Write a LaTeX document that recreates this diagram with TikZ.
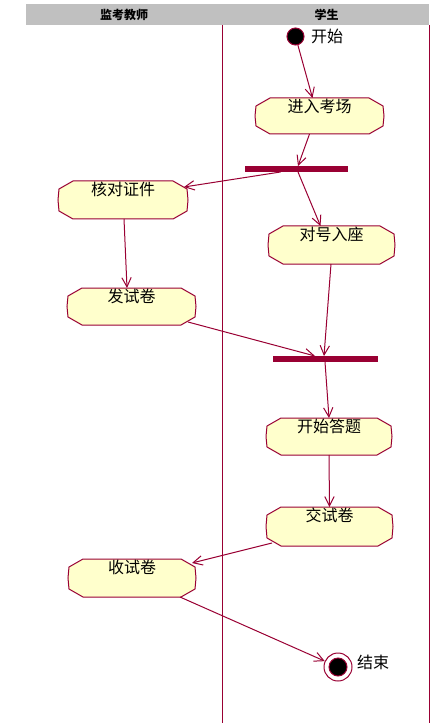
\documentclass[tikz,border=0pt]{standalone}
\usepackage{fontspec}
\newfontfamily\cjk{Noto Sans CJK SC}
\usetikzlibrary{calc,arrows.meta}
\definecolor{maroon}{HTML}{990033}
\definecolor{actfill}{HTML}{FFFFCC}
\definecolor{headgray}{HTML}{C0C0C0}
\tikzset{
  act/.style={rectangle, inner sep=0pt, outer sep=0pt, minimum width=95.25pt, minimum height=28.5pt},
  acttext/.style={font=\cjk\fontsize{12}{14}\selectfont, inner sep=0pt, anchor=north, yshift=-0.75pt},
  bar/.style={rectangle, fill=maroon, inner sep=0pt, outer sep=0pt},
  lane/.style={draw=maroon, line width=0.75pt},
  flow/.style={draw=maroon, line width=0.75pt, -{Straight Barb[length=7pt,width=7pt]}},
  headtext/.style={font=\cjk\bfseries\fontsize{9}{10}\selectfont, inner sep=0pt},
  lbltext/.style={font=\cjk\fontsize{12}{14}\selectfont, inner sep=0pt},
  octo/.style={fill=actfill, draw=maroon, line width=0.75pt}
}
\begin{document}
\begin{tikzpicture}[x=0.75pt,y=-0.75pt]
\useasboundingbox (0,0) rectangle (442,723);
% header
\fill[headgray] (26,4) rectangle (429,25);
\node[headtext] (h1) at (124,15) {监考教师};
\node[headtext] (h2) at (326.5,15) {学生};
% lanes
\draw[lane] (222,25) -- (222,723);
\draw[lane] (429,25) -- (429,723);
% activity nodes
\node[act, minimum width=96.75pt, minimum height=27pt] (a1) at (319.5,116) {};
\node[act, minimum width=97.5pt] (b1) at (123,200) {};
\node[act] (c1) at (331.5,245) {};
\node[act, minimum width=96.75pt, minimum height=27.75pt] (d1) at (131.5,306.5) {};
\node[act, minimum width=94.5pt, minimum height=27.75pt] (e1) at (329,436.5) {};
\node[act, minimum height=29.25pt] (f1) at (329.5,526.5) {};
\node[act, minimum width=96pt] (g1) at (132,578) {};
\foreach \n in {a1,b1,c1,d1,e1,f1,g1}{
  \path[octo] ($(\n.north west)+(15,0)$) -- ($(\n.north east)+(-15,0)$)
    -- ($(\n.north east)+(-1,8)$) -- ($(\n.east)+(0,0)$) -- ($(\n.south east)+(-1,-8)$)
    -- ($(\n.south east)+(-15,0)$) -- ($(\n.south west)+(15,0)$)
    -- ($(\n.south west)+(1,-8)$) -- ($(\n.west)+(0,0)$) -- ($(\n.north west)+(1,8)$) -- cycle;
}
\node[acttext] (ta1) at (a1.north) {进入考场};
\node[acttext] (tb1) at (b1.north) {核对证件};
\node[acttext] (tc1) at (c1.north) {对号入座};
\node[acttext] (td1) at (d1.north) {发试卷};
\node[acttext] (te1) at (e1.north) {开始答题};
\node[acttext] (tf1) at (f1.north) {交试卷};
\node[acttext] (tg1) at (g1.north) {收试卷};
% bars
\node[bar, minimum width=77.25pt, minimum height=4.5pt] (bar1) at (296.5,169) {};
\node[bar, minimum width=78.75pt, minimum height=4.5pt] (bar2) at (325.5,359) {};
% start and end
\node[circle, fill=black, draw=maroon, line width=0.75pt, minimum size=12.75pt, inner sep=0pt] (start) at (295.5,36.5) {};
\node[lbltext] (startlbl) at (327,36) {开始};
\node[circle, draw=maroon, line width=0.75pt, minimum size=21pt, inner sep=0pt] (end) at (338,667) {};
\node[circle, fill=black, draw=maroon, line width=0.75pt, minimum size=13.5pt, inner sep=0pt] (endin) at (end.center) {};
\node[lbltext] (endlbl) at (373,662) {结束};
% flows
\draw[flow] (start) -- ($(a1.north)+(-7,0)$);
\draw[flow] ($(a1.south)+(-10,0)$) -- ($(bar1.north)+(1.5,0)$);
\draw[flow] ($(bar1.south)+(-16,0)$) -- ($(b1.north east)+(-4,6)$);
\draw[flow] ($(bar1.south)+(1.5,0)$) -- ($(c1.north)+(-11,0)$);
\draw[flow] ($(b1.south)+(1,0)$) -- ($(d1.north)+(-4.5,0)$);
\draw[flow] ($(d1.south east)+(-8,-3)$) -- ($(bar2.north)+(-10.5,0)$);
\draw[flow] ($(c1.south)+(-0.5,0)$) -- ($(bar2.north)+(-1.5,0)$);
\draw[flow] ($(bar2.south)+(-0.5,0)$) -- (e1.north);
\draw[flow] (e1.south) -- (f1.north);
\draw[flow] ($(f1.south west)+(6,-3)$) -- ($(g1.north east)+(-4,4)$);
\draw[flow] ($(g1.south east)+(-16,0)$) -- (end);
\end{tikzpicture}
\end{document}
